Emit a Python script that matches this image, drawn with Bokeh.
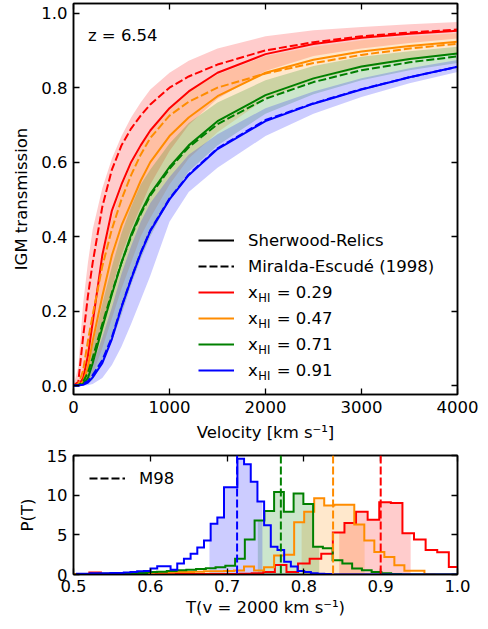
import numpy as np
from bokeh.plotting import figure
from bokeh.models import (Range1d, LinearAxis, FixedTicker, PrintfTickFormatter,
                          Legend, LegendItem, Span, Label)
from bokeh.layouts import column
from bokeh.embed import file_html
from bokeh.resources import INLINE

FONT = "DejaVu Sans"
FS = "16.5px"

# ---------------- top panel data ----------------
velocity = [0, 50, 100, 150, 200, 300, 400, 500, 600, 700, 800, 1000, 1200, 1500, 2000, 2500, 3000, 3500, 4000]
xhi_labels = ["0.29", "0.47", "0.71", "0.91"]
colors = ["#ff0000", "#ff8c00", "#008000", "#0000ff"]

# Sherwood-Relics (solid)
sr_029 = [0, 0.0, 0.02, 0.08, 0.17, 0.35, 0.47, 0.54, 0.60, 0.645, 0.685, 0.745, 0.79, 0.84, 0.89, 0.917, 0.934, 0.945, 0.953]
sr_047 = [0, 0.0, 0.01, 0.05, 0.12, 0.24, 0.35, 0.43, 0.49, 0.55, 0.60, 0.67, 0.72, 0.777, 0.84, 0.875, 0.897, 0.912, 0.923]
sr_071 = [0, 0.0, 0.005, 0.02, 0.06, 0.155, 0.245, 0.33, 0.405, 0.465, 0.515, 0.587, 0.645, 0.71, 0.78, 0.825, 0.857, 0.877, 0.892]
sr_091 = [0, 0.0, 0.002, 0.008, 0.022, 0.06, 0.125, 0.21, 0.285, 0.355, 0.415, 0.50, 0.565, 0.635, 0.71, 0.757, 0.795, 0.828, 0.856]
# Miralda-Escude (1998) (dashed)
me_029 = [0, 0.01, 0.13, 0.24, 0.33, 0.48, 0.58, 0.645, 0.69, 0.725, 0.755, 0.80, 0.83, 0.862, 0.90, 0.922, 0.938, 0.948, 0.956]
me_047 = [0, 0.003, 0.04, 0.12, 0.19, 0.32, 0.42, 0.50, 0.565, 0.62, 0.665, 0.725, 0.762, 0.80, 0.838, 0.866, 0.888, 0.905, 0.918]
me_071 = [0, 0.001, 0.01, 0.035, 0.075, 0.165, 0.25, 0.33, 0.40, 0.46, 0.51, 0.582, 0.64, 0.702, 0.77, 0.815, 0.847, 0.868, 0.884]
me_091 = [0, 0.0, 0.004, 0.012, 0.028, 0.068, 0.13, 0.212, 0.287, 0.357, 0.417, 0.502, 0.567, 0.637, 0.713, 0.758, 0.796, 0.828, 0.856]
# Sherwood-Relics scatter bands
hi_029 = [0, 0.05, 0.22, 0.33, 0.42, 0.53, 0.61, 0.67, 0.72, 0.76, 0.795, 0.84, 0.872, 0.905, 0.938, 0.954, 0.963, 0.97, 0.976]
lo_029 = [0, 0.0, 0.005, 0.025, 0.06, 0.16, 0.26, 0.35, 0.42, 0.48, 0.54, 0.63, 0.70, 0.77, 0.845, 0.885, 0.905, 0.92, 0.932]
hi_047 = [0, 0.005, 0.05, 0.12, 0.2, 0.34, 0.45, 0.53, 0.59, 0.64, 0.68, 0.745, 0.79, 0.835, 0.885, 0.91, 0.927, 0.938, 0.946]
lo_047 = [0, 0.0, 0.002, 0.01, 0.03, 0.1, 0.18, 0.26, 0.33, 0.40, 0.45, 0.54, 0.61, 0.68, 0.77, 0.82, 0.852, 0.873, 0.89]
hi_071 = [0, 0.001, 0.02, 0.06, 0.11, 0.22, 0.32, 0.41, 0.48, 0.54, 0.58, 0.65, 0.705, 0.76, 0.82, 0.858, 0.883, 0.898, 0.91]
lo_071 = [0, 0.0, 0.001, 0.005, 0.015, 0.06, 0.12, 0.19, 0.27, 0.34, 0.40, 0.50, 0.575, 0.645, 0.73, 0.782, 0.82, 0.847, 0.866]
hi_091 = [0, 0.0, 0.008, 0.025, 0.055, 0.13, 0.21, 0.30, 0.375, 0.44, 0.49, 0.56, 0.62, 0.675, 0.745, 0.79, 0.825, 0.852, 0.874]
lo_091 = [0, 0.0, 0.0, 0.001, 0.004, 0.02, 0.055, 0.105, 0.165, 0.23, 0.295, 0.44, 0.52, 0.585, 0.67, 0.73, 0.775, 0.812, 0.842]

# ---------------- bottom panel data ----------------
m98_T2000 = [0.90, 0.838, 0.77, 0.713]
fill_lo = [0.846, 0.797, 0.740, 0.677]
fill_hi = [0.939, 0.879, 0.820, 0.746]

hist_start = [0.5055, 0.5002, 0.5072, 0.5046]
hist_width = [0.0151, 0.01305, 0.0127, 0.0087]
h_029 = [0.0, 0.25, 0.05, 0.05, 0.05, 0.05, 0.05, 0.05, 0.05, 0.05, 0.05, 0.05, 0.05, 0.05, 0.1, 0.15,
         0.3, 1.2, 0.3, 1.4, 2.0, 2.6, 5.3, 6.5, 7.9, 6.9, 9.1, 9.0, 5.2, 4.4, 3.1, 2.8, 0.96, 0.0]
h_047 = [0.05, 0.05, 0.1, 0.1, 0.1, 0.15, 0.2, 0.2, 0.25, 0.25, 0.3, 0.3, 0.35, 0.4, 0.4, 0.45,
         0.5, 1.0, 0.5, 0.9, 2.4, 2.5, 6.6, 7.9, 9.6, 8.7, 8.8, 8.8, 6.3, 4.3, 2.85, 2.2, 1.17,
         0.46, 0.46, 0.05, 0.0, 0.0, 0.0]
h_071 = [0.05, 0.05, 0.1, 0.1, 0.1, 0.15, 0.2, 0.3, 0.35, 0.45, 0.55, 0.6, 0.7, 0.8, 0.9, 1.1,
         2.0, 4.4, 6.8, 8.0, 10.4, 7.9, 10.2, 8.9, 3.5, 3.3, 1.8, 1.4, 0.75, 0.55, 0.33, 0.15,
         0.05, 0.0, 0.0, 0.0, 0.0, 0.0, 0.0, 0.0]
h_091 = [0.1, 0.1, 0.15, 0.15, 0.15, 0.2, 0.2, 0.25, 0.3, 0.4, 0.45, 0.75, 1.05, 1.05, 0.6, 1.4,
         2.0, 2.6, 3.4, 4.3, 6.4, 7.2, 11.0, 11.0, 14.6, 13.9, 11.7, 9.2, 6.2, 3.5, 3.1, 1.6,
         1.0, 0.45, 0.3, 0.15, 0.1, 0.05, 0.0, 0.0, 0.0, 0.0, 0.0, 0.0, 0.0, 0.0, 0.0, 0.0,
         0.0, 0.0, 0.0, 0.0, 0.0, 0.0, 0.0, 0.0, 0.0, 0.0]

solid = [sr_029, sr_047, sr_071, sr_091]
dashed = [me_029, me_047, me_071, me_091]
band_hi = [hi_029, hi_047, hi_071, hi_091]
band_lo = [lo_029, lo_047, lo_071, lo_091]
hists = [h_029, h_047, h_071, h_091]

# ---------------- layout constants ----------------
FW = 384
FH_TOP = 391
FH_BOT = 119
LEFT = 73
RIGHT = 25
Y0, Y1 = -0.024, 1.026
DASH = "8 3"


def style_axes(p, xticks, yticks, xfmt=None, yfmt=None):
    top_ax = LinearAxis()
    right_ax = LinearAxis()
    p.add_layout(top_ax, "above")
    p.add_layout(right_ax, "right")
    p.grid.visible = False
    p.outline_line_color = "black"
    p.outline_line_width = 1.5
    p.background_fill_color = "white"
    p.border_fill_color = "white"
    for ax in p.axis:
        ax.major_tick_in = 6
        ax.major_tick_out = 0
        ax.minor_tick_line_color = None
        ax.major_tick_line_width = 1.3
        ax.major_tick_line_color = "black"
        ax.axis_line_width = 1.5
        ax.axis_line_color = "black"
        ax.major_label_text_font = FONT
        ax.major_label_text_font_size = FS
        ax.major_label_text_color = "black"
        ax.axis_label_text_font = FONT
        ax.axis_label_text_font_size = FS
        ax.axis_label_text_font_style = "normal"
        ax.axis_label_text_color = "black"
    for ax in (p.below[0], top_ax):
        ax.ticker = FixedTicker(ticks=xticks)
        if xfmt:
            ax.formatter = PrintfTickFormatter(format=xfmt)
    for ax in (p.left[0], right_ax):
        ax.ticker = FixedTicker(ticks=yticks)
        if yfmt:
            ax.formatter = PrintfTickFormatter(format=yfmt)
    top_ax.major_label_overrides = {t: "" for t in xticks}
    right_ax.major_label_overrides = {t: "" for t in yticks}
    for ax in (top_ax, right_ax):
        ax.major_label_text_font_size = "0px"
        ax.major_label_standoff = 0


# ---------------- top figure ----------------
p1 = figure(frame_width=FW, frame_height=FH_TOP, min_border_left=LEFT, min_border_right=RIGHT,
            min_border_top=3, min_border_bottom=54,
            x_range=Range1d(0, 4000), y_range=Range1d(Y0, Y1),
            output_backend="svg", toolbar_location=None)
style_axes(p1, [0, 1000, 2000, 3000, 4000], [0.0, 0.2, 0.4, 0.6, 0.8, 1.0], None, "%.1f")
xb1, yl1 = p1.below[0], p1.left[0]
xb1.axis_label = "Velocity [km s\u207b\u00b9]"
yl1.axis_label = "IGM transmission"
xb1.major_label_standoff = 6
xb1.axis_label_standoff = 7
yl1.major_label_standoff = 6
yl1.axis_label_standoff = 7

for c, lo, hi in zip(colors, band_lo, band_hi):
    p1.varea(x=velocity, y1=lo, y2=hi, fill_color=c, fill_alpha=0.2)

solid_r = []
for i, c in enumerate(colors):
    if i == 3:
        p1.line(velocity, dashed[i], line_color=c, line_width=2, line_dash=DASH)
        r = p1.line(velocity, solid[i], line_color=c, line_width=2)
    else:
        r = p1.line(velocity, solid[i], line_color=c, line_width=2)
        p1.line(velocity, dashed[i], line_color=c, line_width=2, line_dash=DASH)
    solid_r.append(r)

nan_pt = np.array([np.nan])
dummy_solid = p1.line(x=nan_pt, y=nan_pt, line_color="black", line_width=2)
dummy_dash = p1.line(x=nan_pt, y=nan_pt, line_color="black", line_width=2, line_dash=DASH)

LEG_X, LEG_Y, ITEM_H, SPACING = 125, 14, 20, 6
GLYPH_W, STANDOFF = 36, 14
items = [LegendItem(label="Sherwood-Relics", renderers=[dummy_solid]),
         LegendItem(label="Miralda-Escud\u00e9 (1998)", renderers=[dummy_dash])]
for lab, r in zip(xhi_labels, solid_r):
    items.append(LegendItem(label="x\u00a0\u00a0\u2009 = " + lab, renderers=[r]))
leg1 = Legend(items=items, location=(LEG_X, LEG_Y), padding=0, margin=0, spacing=SPACING,
              label_height=ITEM_H, glyph_height=ITEM_H, glyph_width=GLYPH_W,
              label_standoff=STANDOFF, label_text_font=FONT, label_text_font_size=FS,
              label_text_color="black",
              border_line_color=None, background_fill_alpha=0)
p1.add_layout(leg1)

# subscript "HI" in legend labels
n_items = len(items)
sub_dx = LEG_X + GLYPH_W + STANDOFF + 9.8
for k in range(2, n_items):
    row_c = LEG_Y + ITEM_H / 2 + (n_items - 1 - k) * (ITEM_H + SPACING)
    dy = row_c - 5
    p1.add_layout(Label(x=sub_dx / FW * 4000, y=Y0 + dy / FH_TOP * (Y1 - Y0), text="HI",
                        text_font=FONT, text_font_size="11.5px", text_baseline="middle",
                        text_align="left", text_color="black"))

p1.add_layout(Label(x=150, y=0.94, text="z = 6.54", text_font=FONT, text_font_size=FS,
                    text_baseline="middle", text_align="left", text_color="black"))

# ---------------- bottom figure ----------------
p2 = figure(frame_width=FW, frame_height=FH_BOT, min_border_left=LEFT, min_border_right=RIGHT,
            min_border_top=7, min_border_bottom=50,
            x_range=Range1d(0.5, 1.0), y_range=Range1d(0, 15),
            output_backend="svg", toolbar_location=None)
style_axes(p2, [0.5, 0.6, 0.7, 0.8, 0.9, 1.0], [0, 5, 10, 15], "%.1f", "%d")
xb2, yl2 = p2.below[0], p2.left[0]
xb2.axis_label = "T(v = 2000 km s\u207b\u00b9)"
yl2.axis_label = "P(T)"
xb2.major_label_standoff = 5
xb2.axis_label_standoff = 3
yl2.major_label_standoff = 6
yl2.axis_label_standoff = 7


def edges_of(start, width, n):
    return [start + width * i for i in range(n + 1)]


def step_outline(edges, h):
    xs, ys = [edges[0]], [0.0]
    for i in range(len(h)):
        xs += [edges[i], edges[i + 1]]
        ys += [h[i], h[i]]
    xs.append(edges[-1])
    ys.append(0.0)
    return xs, ys


def step_fill(edges, h, lo, hi):
    xs, ys = [], []
    for i in range(len(h)):
        a, b = max(edges[i], lo), min(edges[i + 1], hi)
        if a < b:
            xs += [a, b]
            ys += [h[i], h[i]]
    return xs, ys


all_edges = [edges_of(s, w, len(h)) for s, w, h in zip(hist_start, hist_width, hists)]
for c, e, h, lo, hi in zip(colors, all_edges, hists, fill_lo, fill_hi):
    fx, fy = step_fill(e, h, lo, hi)
    p2.varea(x=fx, y1=0, y2=fy, fill_color=c, fill_alpha=0.2)
for c, e, h in zip(colors, all_edges, hists):
    sx, sy = step_outline(e, h)
    p2.line(sx, sy, line_color=c, line_width=2, line_join="miter")
for c, t in zip(colors, m98_T2000):
    p2.add_layout(Span(location=t, dimension="height", line_color=c, line_width=2, line_dash=DASH))

dummy_m98 = p2.line(x=nan_pt, y=nan_pt, line_color="black", line_width=2, line_dash=DASH)
leg2 = Legend(items=[LegendItem(label="M98", renderers=[dummy_m98])], location=(16, 86),
              padding=0, margin=0, label_height=ITEM_H, glyph_height=ITEM_H, glyph_width=GLYPH_W,
              label_standoff=STANDOFF, label_text_font=FONT, label_text_font_size=FS,
              label_text_color="black",
              border_line_color=None, background_fill_alpha=0)
p2.add_layout(leg2)

layout = column(p1, p2, spacing=0)
open("out.html", "w").write(file_html(layout, INLINE))
